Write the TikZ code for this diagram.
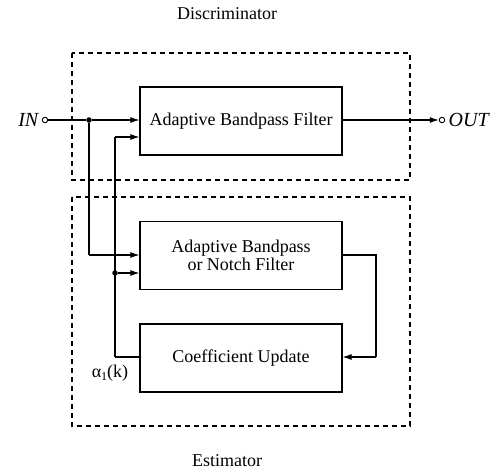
\documentclass[tikz,border=0pt]{standalone}
\usepackage{fontspec}
\setmainfont{Liberation Serif}
\usetikzlibrary{arrows.meta}
\begin{document}
\begin{tikzpicture}[x=1pt,y=-1pt,
  font=\fontsize{18}{20}\selectfont,
  blk/.style={draw,line width=1.1pt,minimum width=202pt,minimum height=68pt,inner sep=0pt,align=center},
  grp/.style={draw,line width=1.1pt,dash pattern=on 5pt off 4pt},
  wire/.style={line width=1.1pt},
  arr/.style={wire,-{Latex[length=9pt,width=6pt]}},
  dotn/.style={circle,fill,inner sep=0pt,minimum size=5.5pt},
  term/.style={circle,draw,line width=0.9pt,inner sep=0pt,minimum size=5.5pt,fill=white},
  io/.style={font=\fontsize{20}{22}\selectfont\itshape}]
\useasboundingbox (0,0) rectangle (504,472);
% group boxes
\draw[grp] (72,53) rectangle (410,180);
\draw[grp] (72,197) rectangle (410,426);
\node (disc) at (227,14) {Discriminator};
\node (est) at (227,461) {Estimator};
% blocks
\node[blk] (abf) at (241,121) {Adaptive Bandpass Filter};
\node[blk] (anf) at (241,255.5) {Adaptive Bandpass\\[-2pt]or Notch Filter};
\node[blk] (cu) at (241,358) {Coefficient Update};
% terminals
\node[term] (in) at (45,120) {};
\node[io,anchor=east] (inlbl) at (in.west) {IN};
\node[term] (out) at (442,120) {};
\node[io,anchor=west] (outlbl) at (out.east) {OUT};
% junctions
\node[dotn] (j1) at (89,120) {};
\node[dotn] (j2) at (115,273) {};
\coordinate (c1) at (89,255);
\coordinate (c2) at (115,137);
\coordinate (c3) at (115,357);
\coordinate (c4) at (376,255);
\coordinate (c5) at (376,357);
% wires
\draw[wire] (in) -- (j1);
\draw[arr] (j1) -- (abf.west |- j1);
\draw[wire] (j1) -- (c1);
\draw[arr] (c1) -- (anf.west |- c1);
\draw[arr] (j2) -- (anf.west |- j2);
\draw[wire] (c3) -- (c2);
\draw[arr] (c2) -- (abf.west |- c2);
\draw[wire] (c3) -- (cu.west |- c3);
\draw[arr] (abf.east |- out) -- (out);
\draw[wire] (anf.east |- c4) -- (c4) -- (c5);
\draw[arr] (c5) -- (cu.east |- c5);
\node (alpha) at (110,373) {α\raisebox{-0.35ex}{\fontsize{12}{14}\selectfont 1}(k)};
\end{tikzpicture}
\end{document}
